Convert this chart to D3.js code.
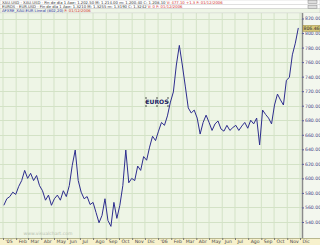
<!DOCTYPE html>
<html>
<head>
<meta charset="utf-8">
<script src="https://cdn.jsdelivr.net/npm/d3@7"></script>
<style>
  body { margin: 0; background: #fff; }
  svg { display: block; font-family: "DejaVu Sans", sans-serif; }
</style>
</head>
<body>
<svg width="320" height="245"></svg>
<script>
// weekly closes
const dates = [
  '2005-01-03','2005-01-10','2005-01-17','2005-01-24','2005-01-31','2005-02-07','2005-02-14','2005-02-21','2005-02-28',
  '2005-03-07','2005-03-14','2005-03-21','2005-03-28','2005-04-04','2005-04-11','2005-04-18','2005-04-25',
  '2005-05-02','2005-05-09','2005-05-16','2005-05-23','2005-05-30','2005-06-06','2005-06-13','2005-06-20','2005-06-27',
  '2005-07-04','2005-07-11','2005-07-18','2005-07-25','2005-08-01','2005-08-08','2005-08-15','2005-08-22','2005-08-29',
  '2005-09-05','2005-09-12','2005-09-19','2005-09-26','2005-10-03','2005-10-10','2005-10-17','2005-10-24','2005-10-31',
  '2005-11-07','2005-11-14','2005-11-21','2005-11-28','2005-12-05','2005-12-12','2005-12-19','2005-12-26',
  '2006-01-02','2006-01-09','2006-01-16','2006-01-23','2006-01-30','2006-02-06','2006-02-13','2006-02-20','2006-02-27',
  '2006-03-06','2006-03-13','2006-03-20','2006-03-27','2006-04-03','2006-04-10','2006-04-17','2006-04-24',
  '2006-05-01','2006-05-08','2006-05-15','2006-05-22','2006-05-29','2006-06-05','2006-06-12','2006-06-19','2006-06-26',
  '2006-07-03','2006-07-10','2006-07-17','2006-07-24','2006-07-31','2006-08-07','2006-08-14','2006-08-21','2006-08-28',
  '2006-09-04','2006-09-11','2006-09-18','2006-09-25','2006-10-02','2006-10-09','2006-10-16','2006-10-23','2006-10-30',
  '2006-11-06','2006-11-13','2006-11-20','2006-11-27'
];
const closes = [
  563, 572, 575, 581, 578, 589, 597, 611, 600,
  607, 597, 604, 590, 583, 570, 577, 563,
  572, 577, 570, 583, 575, 590, 618, 639, 597,
  581, 572, 575, 564, 567, 553, 539, 549, 572,
  542, 534, 567, 545, 563, 590, 639, 594, 600,
  597, 617, 611, 630, 625, 643, 658, 652,
  665, 677, 673, 686, 705, 719, 756, 783, 756,
  727, 697, 690, 694, 683, 661, 677, 687,
  677, 666, 675, 679, 668, 665, 673, 666, 670,
  673, 666, 672, 677, 669, 680, 675, 683, 646,
  694, 688, 683, 675, 701, 716, 708, 701, 735,
  739, 770, 786, 807
];
const yTicks = [540, 560, 580, 600, 620, 640, 660, 680, 700, 720, 740, 760, 780, 800, 820];
const monthLabels = ["'05", 'Feb', 'Mar', 'Abr', 'May', 'Jun', 'Jul', 'Ago', 'Sep', 'Oct', 'Nov', 'Dic',
  "'06", 'Feb', 'Mar', 'Abr', 'May', 'Jun', 'Jul', 'Ago', 'Sep', 'Oct', 'Nov', 'Dic'];
const headerMain = [
  'XAU.USD - XAU.USD - Fin de día  1 Ape: 1.202,50  M: 1.214,00  m: 1.200,40  C: 1.208,10 ',
  'EUROS - EUR.USD - Fin de día  1 Ape: 1,3210  M: 1,3255  m: 1,3190  C: 1,3242 ',
  'AFXRE_XAU.EUR Lineal (802,20) '
];
const headerRed = ['V: 477,10  +1,3  F: 01/12/2006', 'V: 0  F: 01/12/2006', 'F: 01/12/2006'];
const lastValue = 806.46;

const svg = d3.select('svg');
const W = 320, H = 245;
const plotRight = 302, plotTop = 13, plotBottom = 238;

const parse = d3.timeParse('%Y-%m-%d');
const data = dates.map((d, i) => ({ date: parse(d), value: closes[i] }));

const x = d3.scaleTime()
  .domain([new Date(2005, 0, 1), new Date(2006, 11, 1)])
  .range([3, 300]);
const y = d3.scaleLinear()
  .domain([540, 820])
  .range([222, 18.5]);

// background
svg.append('rect').attr('width', W).attr('height', H).attr('fill', '#fff');
svg.append('rect')
  .attr('x', 0).attr('y', plotTop)
  .attr('width', W).attr('height', plotBottom - plotTop)
  .attr('fill', '#eef5e6');

// grid
const months = d3.timeMonth.range(new Date(2005, 0, 1), new Date(2007, 0, 1));
svg.append('g')
  .selectAll('line')
  .data(months.filter((m) => x(m) < plotRight))
  .join('line')
  .attr('x1', (m) => x(m)).attr('x2', (m) => x(m))
  .attr('y1', plotTop).attr('y2', plotBottom)
  .attr('stroke', '#d3e2c6').attr('stroke-width', 1);

svg.append('g')
  .selectAll('line')
  .data(yTicks)
  .join('line')
  .attr('x1', 0).attr('x2', plotRight)
  .attr('y1', (d) => Math.round(y(d)) + 0.5).attr('y2', (d) => Math.round(y(d)) + 0.5)
  .attr('stroke', '#d3e2c6');

// header rows
headerMain.forEach((t, i) => {
  svg.append('rect')
    .attr('x', 0).attr('y', i * 4.3)
    .attr('width', W).attr('height', 4.3)
    .attr('fill', i === 2 ? '#eef5e6' : '#fff')
    .attr('stroke', '#c9c9c9').attr('stroke-width', 0.5);
  const tx = svg.append('text')
    .attr('x', 2).attr('y', i * 4.3 + 3.6)
    .attr('font-size', 3.8)
    .attr('fill', i === 2 ? '#2a2aa0' : '#333');
  tx.append('tspan').text(t);
  tx.append('tspan').attr('fill', '#d23030').text(headerRed[i]);
});
[2, 7].forEach((yy) => {
  svg.append('rect').attr('x', 308).attr('y', yy - 1.5).attr('width', 9).attr('height', 3)
    .attr('fill', '#ddd').attr('stroke', '#888').attr('stroke-width', 0.5);
});

// right axis
svg.append('rect')
  .attr('x', plotRight).attr('y', plotTop)
  .attr('width', W - plotRight).attr('height', plotBottom - plotTop)
  .attr('fill', '#f3f7ee');
svg.append('line')
  .attr('x1', plotRight + 0.5).attr('x2', plotRight + 0.5)
  .attr('y1', plotTop).attr('y2', plotBottom)
  .attr('stroke', '#8a8a8a').attr('stroke-width', 1.5);

const yAxis = svg.append('g')
  .attr('transform', `translate(${plotRight}, 0)`)
  .call(d3.axisRight(y).tickValues(yTicks).tickSize(2).tickPadding(1).tickFormat(d3.format('.2f')));
yAxis.select('.domain').remove();
yAxis.selectAll('line').attr('stroke', '#5a5a9a');
yAxis.selectAll('text').attr('font-size', 4.6).attr('fill', '#4a4a8a').attr('font-family', 'DejaVu Sans');

// bottom axis strip
svg.append('rect')
  .attr('x', 0).attr('y', plotBottom)
  .attr('width', W).attr('height', H - plotBottom)
  .attr('fill', '#f7f1cc');
svg.append('line')
  .attr('x1', 0).attr('x2', W)
  .attr('y1', plotBottom + 0.5).attr('y2', plotBottom + 0.5)
  .attr('stroke', '#b8b890');

const xAxis = svg.append('g')
  .attr('transform', `translate(0, ${plotBottom})`)
  .call(d3.axisBottom(x).tickValues(months.slice(0, 24)).tickSize(2).tickFormat((d, i) => monthLabels[i]));
xAxis.select('.domain').remove();
xAxis.selectAll('line').attr('stroke', '#777');
xAxis.selectAll('text')
  .attr('font-size', 4.6).attr('fill', '#444').attr('font-family', 'DejaVu Sans')
  .attr('text-anchor', 'start').attr('dx', 2).attr('dy', '-0.1em');

// watermark
svg.append('text')
  .attr('x', 48).attr('y', 235)
  .attr('text-anchor', 'middle')
  .attr('font-size', 4.6).attr('fill', '#b8c2b0')
  .text('www.visualchart.com');

// price line
const line = d3.line()
  .x((d) => x(d.date))
  .y((d) => y(d.value));

svg.append('path')
  .datum(data)
  .attr('d', line)
  .attr('fill', 'none')
  .attr('stroke', '#2d2d8e')
  .attr('stroke-width', 1);

// series label
const lbl = svg.append('g').attr('transform', 'translate(157, 102)');
lbl.append('text')
  .attr('text-anchor', 'middle').attr('dy', '0.35em')
  .attr('font-size', 6).attr('font-weight', 'bold').attr('fill', '#222266')
  .text('EUROS');
[[-11, -4], [0, -4], [11, -4], [-11, 0], [11, 0], [-11, 4], [0, 4], [11, 4]].forEach(([dx, dy]) => {
  lbl.append('rect').attr('x', dx - 0.6).attr('y', dy - 0.6).attr('width', 1.2).attr('height', 1.2).attr('fill', '#111');
});

// last value marker
svg.append('rect')
  .attr('x', plotRight + 1).attr('y', y(lastValue) - 3)
  .attr('width', 17).attr('height', 6)
  .attr('fill', '#d9c97a').attr('stroke', '#9a8a40').attr('stroke-width', 0.5);
svg.append('text')
  .attr('x', plotRight + 9.5).attr('y', y(lastValue))
  .attr('dy', '0.35em').attr('text-anchor', 'middle')
  .attr('font-size', 4.6).attr('fill', '#333')
  .text(d3.format('.2f')(lastValue));
</script>
</body>
</html>
